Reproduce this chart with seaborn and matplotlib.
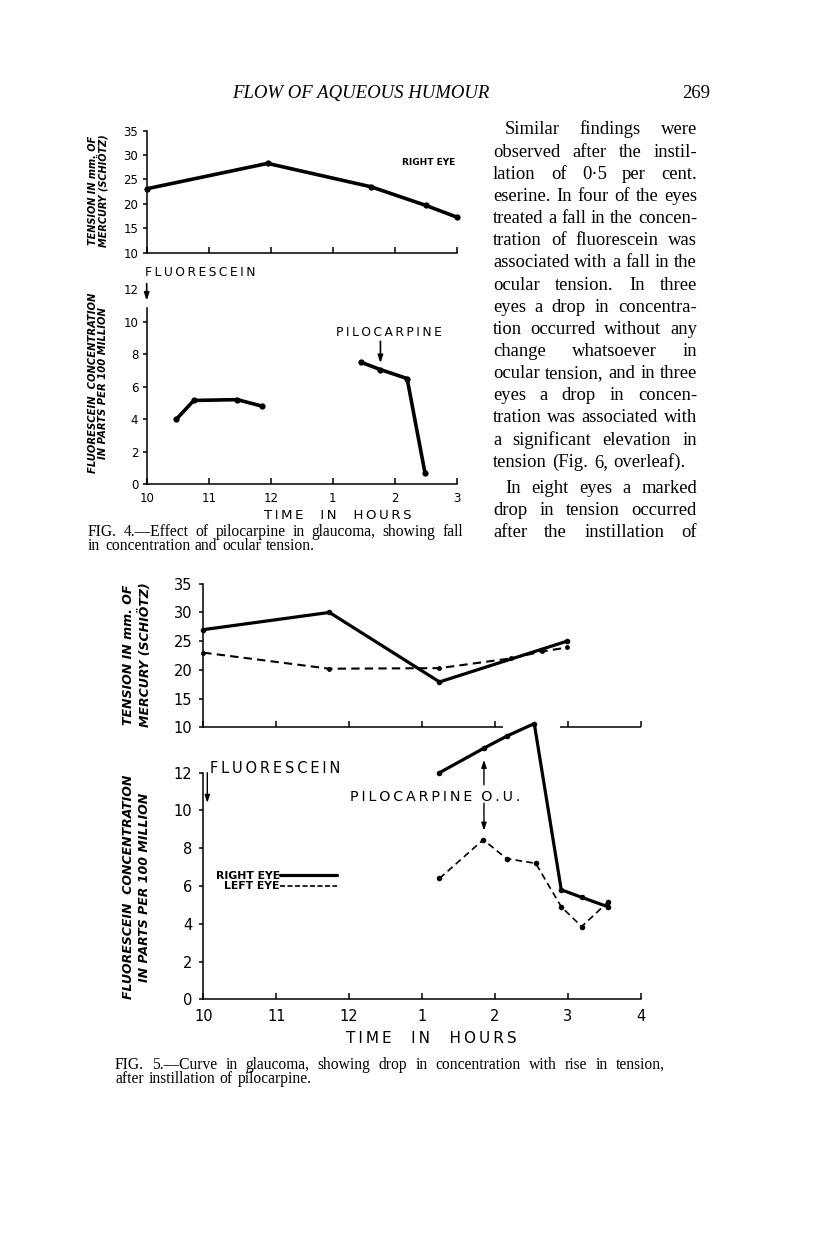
import matplotlib
matplotlib.use('Agg')
import matplotlib.pyplot as plt
from matplotlib.lines import Line2D
import seaborn as sns

W, H = 816, 1243
SANS = 'DejaVu Sans'
SERIF = 'Liberation Serif'

# Times are hours of the day on a continuous scale (13 = 1 o'clock, etc.)
hour_ticks_4 = [10, 11, 12, 13, 14, 15]
hour_labels_4 = ['10', '11', '12', '1', '2', '3']
hour_ticks_5 = [10, 11, 12, 13, 14, 15, 16]
hour_labels_5 = ['10', '11', '12', '1', '2', '3', '4']
tension_ticks = [10, 15, 20, 25, 30, 35]
conc_ticks = [0, 2, 4, 6, 8, 10, 12]

# Fig. 4 - right eye
fig4_tension_t = [10.0, 11.95, 13.62, 14.5, 15.0]
fig4_tension = [23.1, 28.3, 23.5, 19.7, 17.3]
fig4_conc_am_t = [10.48, 10.76, 11.46, 11.86]
fig4_conc_am = [4.0, 5.15, 5.2, 4.8]
fig4_conc_pm_t = [13.46, 13.77, 14.2, 14.49]
fig4_conc_pm = [7.5, 7.05, 6.5, 0.65]

# Fig. 5 - right eye (solid) and left eye (dashed)
fig5_tension_right_t = [10.0, 11.73, 13.24, 14.99]
fig5_tension_right = [27.0, 30.0, 17.9, 25.0]
fig5_tension_left_t = [10.0, 11.73, 13.24, 14.22, 14.65, 14.99]
fig5_tension_left = [23.0, 20.2, 20.3, 22.0, 23.2, 23.9]
fig5_conc_right_t = [13.24, 13.85, 14.17, 14.54, 14.91, 15.19, 15.55]
fig5_conc_right = [12.0, 13.3, 13.95, 14.6, 5.8, 5.4, 4.9]
fig5_conc_left_t = [13.24, 13.84, 14.16, 14.56, 14.91, 15.19, 15.55]
fig5_conc_left = [6.4, 8.45, 7.45, 7.2, 4.9, 3.85, 5.15]

# where the top axis of fig. 5 is broken by the concentration curve
fig5_axis_break = (14.11, 14.89)

body_par1 = [
    "Similar findings were",
    "observed after the instil-",
    "lation of 0·5 per cent.",
    "eserine. In four of the eyes",
    "treated a fall in the concen-",
    "tration of fluorescein was",
    "associated with a fall in the",
    "ocular tension. In three",
    "eyes a drop in concentra-",
    "tion occurred without any",
    "change whatsoever in",
    "ocular tension, and in three",
    "eyes a drop in concen-",
    "tration was associated with",
    "a significant elevation in",
    "tension (Fig. 6, overleaf).",
]
body_par2 = [
    "In eight eyes a marked",
    "drop in tension occurred",
    "after the instillation of",
]

sns.set_style('ticks')
plt.rcParams['font.family'] = [SANS]
plt.rcParams['text.color'] = 'black'
plt.rcParams['xtick.color'] = 'black'
plt.rcParams['ytick.color'] = 'black'

fig = plt.figure(figsize=(W / 100, H / 100), dpi=100)
fig.patch.set_facecolor('white')


def add_axes_px(left, top, right, bottom):
    ax = fig.add_axes([left / W, 1 - bottom / H, (right - left) / W, (bottom - top) / H])
    ax.set_facecolor('none')
    return ax


def spaced(s):
    return '\u2009'.join(s)


def style_axes(ax, lw, tick_size, xpad, ypad):
    sns.despine(ax=ax)
    for s in ('left', 'bottom'):
        ax.spines[s].set_linewidth(lw)
        ax.spines[s].set_color('black')
    ax.tick_params(axis='x', direction='in', length=4, width=lw, pad=xpad, labelsize=tick_size)
    ax.tick_params(axis='y', direction='out', length=3, width=lw, pad=ypad, labelsize=tick_size)
    ax.set_xlabel('')
    ax.set_ylabel('')


def arrow(ax, x, y_from, y_to, lw=1.0):
    ax.annotate('', xy=(x, y_to), xytext=(x, y_from),
                arrowprops=dict(arrowstyle='-|>,head_width=0.15,head_length=0.45',
                                color='black', lw=lw, shrinkA=0, shrinkB=0),
                annotation_clip=False)


def curve(ax, t, v, lw, ms, ls='-'):
    sns.lineplot(x=t, y=v, ax=ax, color='black', linewidth=lw, linestyle=ls,
                 marker='o', markersize=ms, markeredgewidth=0, clip_on=False)


def ylabel_px(x, y, s, size):
    fig.text(x / W, 1 - y / H, s, rotation=90, ha='center', va='center',
             fontsize=size, fontweight='bold', fontstyle='italic', family=SANS)


# ---------------- Fig. 4 ----------------
ax = add_axes_px(146.7, 130.7, 456.7, 252.7)
curve(ax, fig4_tension_t, fig4_tension, 2.6, 4.5)
ax.set_xlim(10, 15)
ax.set_ylim(10, 35)
ax.set_xticks(hour_ticks_4)
ax.set_xticklabels([])
ax.set_yticks(tension_ticks)
style_axes(ax, 1.1, 8.5, 6, 3)
ax.text(14.97, 28.5, 'RIGHT EYE', ha='right', va='center', fontsize=6.5,
        fontweight='bold', family=SANS)

ax = add_axes_px(146.7, 289.3, 456.7, 484)
curve(ax, fig4_conc_am_t, fig4_conc_am, 2.6, 4.5)
curve(ax, fig4_conc_pm_t, fig4_conc_pm, 2.6, 4.5)
ax.set_xlim(10, 15)
ax.set_ylim(0, 12)
ax.set_xticks(hour_ticks_4)
ax.set_xticklabels(hour_labels_4)
ax.set_yticks(conc_ticks)
style_axes(ax, 1.1, 8.5, 6, 3)
ax.spines['left'].set_bounds(0, 10.85)
ax.yaxis.get_major_ticks()[-1].tick1line.set_visible(False)
arrow(ax, 10.0, 12.35, 11.3, lw=1.2)
ax.text(9.97, 13.04, spaced('FLUORESCEIN'), ha='left', va='center', fontsize=8.8)
ax.text(13.9, 9.34, spaced('PILOCARPINE'), ha='center', va='center', fontsize=8.8)
arrow(ax, 13.77, 8.8, 7.45, lw=1.2)
ax.text(13.08, -1.95, spaced('TIME') + '    ' + spaced('IN') + '    ' + spaced('HOURS'),
        ha='center', va='center', fontsize=9.5)

ylabel_px(92.8, 190.5, 'TENSION IN mm. OF', 7)
ylabel_px(103, 190.5, 'MERCURY (SCHIÖTZ)', 7)
ylabel_px(92.8, 383, 'FLUORESCEIN  CONCENTRATION', 7.2)
ylabel_px(103, 383, 'IN PARTS PER 100 MILLION', 7.2)

# ---------------- Fig. 5 ----------------
ax = add_axes_px(203.3, 583.7, 640.7, 727.3)
curve(ax, fig5_tension_right_t, fig5_tension_right, 2.3, 4)
curve(ax, fig5_tension_left_t, fig5_tension_left, 1.5, 3.5, ls=(0, (4, 2.5)))
ax.set_xlim(10, 16)
ax.set_ylim(10, 35)
ax.set_xticks(hour_ticks_5)
ax.set_xticklabels([])
ax.set_yticks(tension_ticks)
style_axes(ax, 1.1, 10.5, 6, 5)
ax.spines['bottom'].set_visible(False)
ax.hlines(10, 10, fig5_axis_break[0], color='black', lw=1.1, clip_on=False)
ax.hlines(10, fig5_axis_break[1], 16, color='black', lw=1.1, clip_on=False)

ax = add_axes_px(203.3, 772.7, 640.7, 999.3)
curve(ax, fig5_conc_right_t, fig5_conc_right, 2.3, 4)
curve(ax, fig5_conc_left_t, fig5_conc_left, 1.2, 4, ls=(0, (4, 2.5)))
ax.set_xlim(10, 16)
ax.set_ylim(0, 12)
ax.set_xticks(hour_ticks_5)
ax.set_xticklabels(hour_labels_5)
ax.set_yticks(conc_ticks)
style_axes(ax, 1.1, 10.5, 7, 5)
arrow(ax, 10.055, 12.0, 10.4, lw=1.0)
ax.text(10.09, 12.23, spaced('FLUORESCEIN'), ha='left', va='center', fontsize=10.5)
ax.text(13.18, 10.71, spaced('PILOCARPINE') + '  ' + spaced('O.U.'), ha='center', va='center',
        fontsize=10.3)
arrow(ax, 13.85, 11.36, 12.68, lw=1.0)
arrow(ax, 13.85, 10.38, 8.93, lw=1.0)
ax.text(13.13, -2.06, spaced('TIME') + '    ' + spaced('IN') + '    ' + spaced('HOURS'),
        ha='center', va='center', fontsize=11)
handles = [Line2D([], [], color='black', lw=2.3),
           Line2D([], [], color='black', lw=1.2, ls=(0, (3, 1.5)))]
ax.legend(handles, ['RIGHT EYE', 'LEFT EYE'], loc='upper left', bbox_to_anchor=(10.17, 6.8),
          bbox_transform=ax.transData, markerfirst=False, frameon=False, borderpad=0,
          borderaxespad=0, handlelength=5.2, handletextpad=0.05, labelspacing=0.05,
          prop=dict(family=SANS, weight='bold', size=7.8))

ylabel_px(128.3, 655, 'TENSION IN mm. OF', 9)
ylabel_px(145, 655, 'MERCURY (SCHIÖTZ)', 9)
ylabel_px(128.3, 887, 'FLUORESCEIN  CONCENTRATION', 9)
ylabel_px(145, 887, 'IN PARTS PER 100 MILLION', 9)

# ---------------- page text ----------------
renderer = fig.canvas.get_renderer()


def put_line(s, x0, x1, y, size, justify=True, style='normal'):
    # y is the middle of the x-height; place words on a common baseline
    base = y + size * 100 / 72 * 0.24
    words = s.split()
    objs = [fig.text(0, 1 - base / H, w, fontsize=size, family=SERIF, style=style,
                     va='baseline') for w in words]
    widths = [o.get_window_extent(renderer).width for o in objs]
    if justify and len(words) > 1:
        gap = (x1 - x0 - sum(widths)) / (len(words) - 1)
    else:
        gap = size * 100 / 72 * 0.3
    x = x0
    for o, w in zip(objs, widths):
        o.set_x(x / W)
        x += w + gap


fig.text(231.7 / W, 1 - 93.5 / H, 'FLOW OF AQUEOUS HUMOUR', fontsize=13.5, family=SERIF,
         style='italic', ha='left', va='center')
fig.text(696 / W, 1 - 93.5 / H, '269', fontsize=13.5, family=SERIF, ha='center', va='center')

col_left, col_right, indent = 493, 697, 12
y = 130
for i, line in enumerate(body_par1):
    x0 = col_left + (indent if i == 0 else 0)
    put_line(line, x0, col_right, y, 13.4, justify=(i < len(body_par1) - 1))
    y += 22.15
y = 489
for i, line in enumerate(body_par2):
    x0 = col_left + (indent if i == 0 else 0)
    put_line(line, x0, col_right, y, 13.4)
    y += 22

put_line('FIG. 4.—Effect of pilocarpine in glaucoma, showing fall', 88, 463, 532, 11.2)
put_line('in concentration and ocular tension.', 88, 0, 546, 11.2, justify=False)
put_line('FIG. 5.—Curve in glaucoma, showing drop in concentration with rise in tension,',
         115, 665, 1065, 11.2)
put_line('after instillation of pilocarpine.', 115, 0, 1079, 11.2, justify=False)

fig.savefig('out.png', dpi=100, facecolor='white')
